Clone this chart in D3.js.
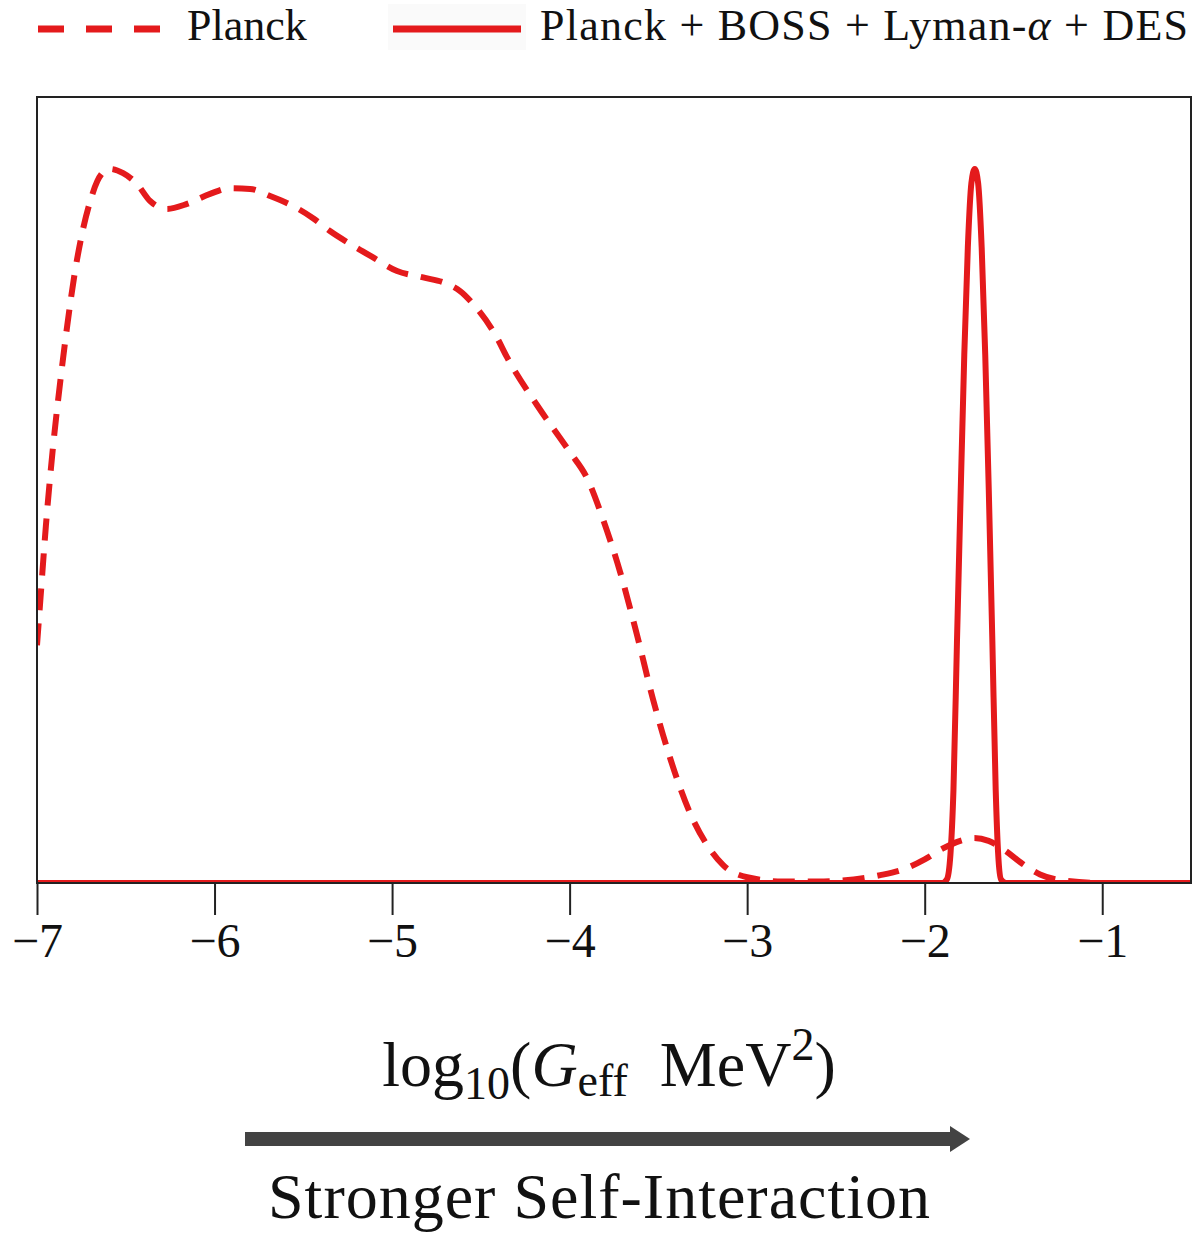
<!DOCTYPE html>
<html lang="en">
<head>
  <meta charset="UTF-8">
  <title>Geff posterior</title>
  <style>
    body { margin: 0; background: #fff; }
    svg { display: block; font-family: "Liberation Serif", "DejaVu Serif", serif; }
    .tick line { stroke: #222; stroke-width: 2px; }
    .tick text { font-size: 48px; fill: #111; font-family: "Liberation Serif", serif; }
  </style>
</head>
<body>
  <svg width="1194" height="1235"></svg>
  <script src="https://d3js.org/d3.v7.min.js"></script>
  <script>
    // Planck only (dashed) - normalised posterior
    const planckX = [-7.0, -6.98, -6.95, -6.91, -6.87, -6.83, -6.79, -6.75, -6.70, -6.66, -6.62, -6.589,
      -6.515, -6.437, -6.363, -6.268, -6.155, -6.025, -5.913, -5.80, -5.687, -5.558, -5.445, -5.35,
      -5.237, -5.107, -4.972, -4.825, -4.69, -4.617, -4.544, -4.41, -4.352, -4.183, -4.0, -3.90,
      -3.81, -3.715, -3.62, -3.53, -3.434, -3.32, -3.225, -3.135, -3.0, -2.8, -2.6, -2.4, -2.25,
      -2.1, -2.0, -1.9, -1.8, -1.72, -1.64, -1.55, -1.45, -1.35, -1.2, -1.0, -0.5];
    const planckY = [0.333, 0.40, 0.50, 0.61, 0.70, 0.78, 0.85, 0.905, 0.955, 0.983, 0.997, 1.0,
      0.994, 0.979, 0.955, 0.944, 0.951, 0.965, 0.973, 0.972, 0.962, 0.948, 0.931, 0.913,
      0.895, 0.876, 0.857, 0.848, 0.839, 0.829, 0.811, 0.764, 0.736, 0.669, 0.604, 0.566,
      0.508, 0.435, 0.347, 0.257, 0.175, 0.097, 0.053, 0.025, 0.008, 0.002, 0.002, 0.005, 0.011,
      0.021, 0.033, 0.048, 0.059, 0.063, 0.059, 0.046, 0.027, 0.012, 0.003, 0.0, 0.0];

    // Planck + BOSS + Lyman-alpha + DES (solid)
    const combX = [-7.0, -1.90, -1.875, -1.855, -1.838, -1.818, -1.797, -1.777, -1.757, -1.737, -1.718,
      -1.699, -1.679, -1.659, -1.639, -1.619, -1.600, -1.586, -1.570, -1.54, -0.5];
    const combY = [0, 0, 0.005, 0.04, 0.13, 0.34, 0.55, 0.74, 0.89, 0.98, 1.0,
      0.98, 0.89, 0.74, 0.55, 0.34, 0.13, 0.04, 0.005, 0, 0];

    const xTicks = [-7, -6, -5, -4, -3, -2, -1];
    const legendLabels = ["Planck", "Planck + BOSS + Lyman-", "α", " + DES"];

    const red = "#e41a1c";
    const svg = d3.select("svg");
    const m = { left: 37, right: 1191, top: 97, bottom: 883 };

    const x = d3.scaleLinear().domain([-7, -0.5]).range([m.left, m.right]);
    const y = d3.scaleLinear().domain([0, 1.1007]).range([m.bottom, m.top]);

    svg.append("clipPath").attr("id", "plotclip")
      .append("rect")
      .attr("x", m.left).attr("y", m.top)
      .attr("width", m.right - m.left).attr("height", m.bottom - m.top);

    const line = d3.line()
      .x(d => x(d[0])).y(d => y(d[1]))
      .curve(d3.curveMonotoneX);

    const plot = svg.append("g").attr("clip-path", "url(#plotclip)");

    plot.append("path")
      .datum(planckX.map((v, i) => [v, planckY[i]]))
      .attr("fill", "none").attr("stroke", red).attr("stroke-width", 6)
      .attr("stroke-dasharray", "22,13")
      .attr("d", line);

    plot.append("path")
      .datum(combX.map((v, i) => [v, combY[i]]))
      .attr("fill", "none").attr("stroke", red).attr("stroke-width", 6)
      .attr("stroke-linejoin", "round")
      .attr("d", line);

    // frame
    svg.append("rect")
      .attr("x", m.left).attr("y", m.top)
      .attr("width", m.right - m.left).attr("height", m.bottom - m.top)
      .attr("fill", "none").attr("stroke", "#222").attr("stroke-width", 2);

    // x axis
    const ax = svg.append("g")
      .attr("transform", `translate(0,${m.bottom})`)
      .call(d3.axisBottom(x).tickValues(xTicks).tickSize(32).tickPadding(8).tickFormat(d3.format("d")));
    ax.attr("font-family", null).attr("font-size", null);
    ax.select(".domain").remove();

    // axis title
    const title = svg.append("text")
      .attr("x", 609).attr("y", 1086)
      .attr("text-anchor", "middle")
      .attr("font-size", 64).attr("fill", "#111");
    title.append("tspan").text("log");
    title.append("tspan").attr("font-size", 46).attr("dy", 13).text("10");
    title.append("tspan").attr("dy", -13).text("(");
    title.append("tspan").attr("font-style", "italic").text("G");
    title.append("tspan").attr("font-size", 46).attr("dy", 10).text("eff");
    title.append("tspan").attr("dy", -10).text("\u2002MeV");
    title.append("tspan").attr("font-size", 46).attr("dy", -26).text("2");
    title.append("tspan").attr("dy", 26).text(")");

    // arrow
    svg.append("rect").attr("x", 245).attr("y", 1132).attr("width", 710).attr("height", 14).attr("fill", "#434343");
    svg.append("path")
      .attr("d", "M950,1126 L970,1139 L950,1152 Z")
      .attr("fill", "#434343");

    svg.append("text")
      .attr("x", 268).attr("y", 1218)
      .attr("font-size", 64).attr("fill", "#111")
      .attr("textLength", 662).attr("lengthAdjust", "spacing")
      .text("Stronger Self-Interaction");

    // legend
    const lg = svg.append("g");
    lg.append("line").attr("x1", 38).attr("x2", 161).attr("y1", 29).attr("y2", 29)
      .attr("stroke", red).attr("stroke-width", 7).attr("stroke-dasharray", "26,22");
    lg.append("text").attr("x", 187).attr("y", 40).attr("font-size", 44).attr("fill", "#111")
      .text(legendLabels[0]);
    lg.append("rect").attr("x", 388).attr("y", 4).attr("width", 138).attr("height", 46).attr("fill", "#fafafa");
    lg.append("line").attr("x1", 393).attr("x2", 521).attr("y1", 29).attr("y2", 29)
      .attr("stroke", red).attr("stroke-width", 7);
    const lt = lg.append("text").attr("x", 540).attr("y", 40).attr("font-size", 44).attr("fill", "#111")
      .attr("textLength", 648).attr("lengthAdjust", "spacing");
    lt.append("tspan").text(legendLabels[1]);
    lt.append("tspan").attr("font-style", "italic").text(legendLabels[2]);
    lt.append("tspan").text(legendLabels[3]);
  </script>
</body>
</html>
